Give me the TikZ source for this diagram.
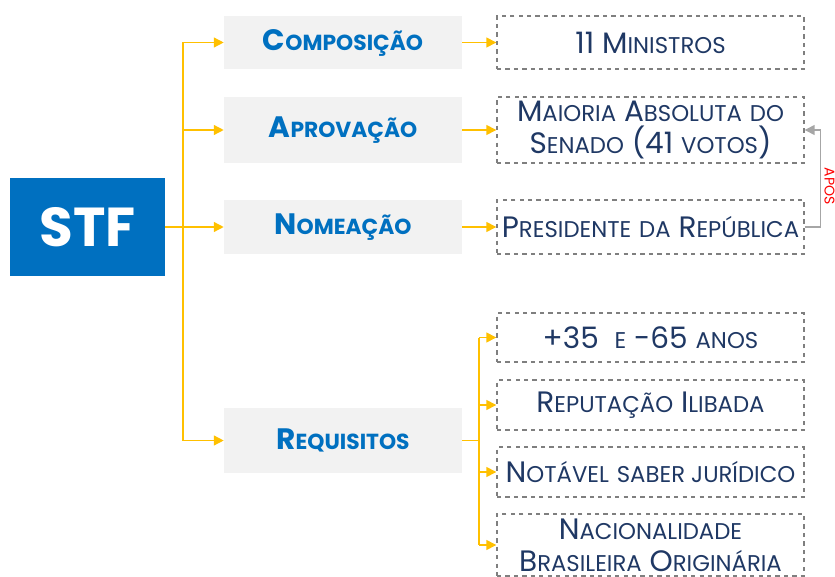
\documentclass[tikz,border=0pt]{standalone}
\usepackage{fontspec}
\setmainfont{Poppins}
\usetikzlibrary{positioning,arrows.meta}
\definecolor{stfblue}{HTML}{0070C0}
\definecolor{navy}{HTML}{1F3864}
\definecolor{boxgray}{HTML}{F2F2F2}
\definecolor{gold}{HTML}{FFC000}
\definecolor{edgegray}{HTML}{7F7F7F}
\definecolor{backgray}{HTML}{A6A6A6}
\newdimen\px \px=0.025cm
\newcommand\lowsz{}
\newcommand\scap[2]{#1{\lowsz #2}}

\begin{document}
\begin{tikzpicture}
            [x=1\px, y=-1\px,
            every node/.style={inner sep=0pt, align=center},
            head/.style={fill=stfblue, text=white, minimum width=155\px,
            minimum height=97\px, font=\bfseries\fontsize{39}{39}\selectfont},
            topic/.style={fill=boxgray, text=stfblue, minimum width=238\px,
            font=\bfseries\fontsize{21}{24}\selectfont\def\lowsz{\fontsize{15.5}{24}\selectfont}},
            item/.style={draw=edgegray, dashed, line width=1pt, text=navy,
            minimum width=307\px,
            font=\fontsize{21}{23}\selectfont\def\lowsz{\fontsize{16.2}{23}\selectfont}},
            wire/.style={draw=gold, line width=1pt},
            feed/.style={wire, -{Triangle[length=7pt,width=7pt]}},
            back/.style={draw=backgray, line width=1pt, -{Triangle[length=7pt,width=7pt]}},
            after/.style={text=red, font=\fontsize{10}{10}\selectfont}]
            \useasboundingbox (0,0) rectangle (835,577);
            \clip (0,0) rectangle (835,577);
            \node[head] (stf) at (87.5,227) {STF};
            \node[topic, minimum height=53\px] (comp) at (343,42.5) {\scap{C}{OMPOSIÇÃO}};
            \node[topic, minimum height=66\px] (aprov) at (343,130) {\scap{A}{PROVAÇÃO}};
            \node[topic, minimum height=54\px] (nome) at (343,227) {\scap{N}{OMEAÇÃO}};
            \node[topic, minimum height=65\px] (req) at (343,440.5) {\scap{R}{EQUISITOS}};
            \node[item, minimum height=53\px] (min) at (650.5,42.5) {11 \scap{M}{INISTROS}};
            \node[item, minimum height=66\px] (maior) at (650.5,130)
                {\scap{M}{AIORIA} \scap{A}{BSOLUTA} {\lowsz DO}\\\scap{S}{ENADO} (41 {\lowsz VOTOS})};
            \node[item, minimum height=54\px] (pres) at (650.5,227)
                {\scap{P}{RESIDENTE} {\lowsz DA} \scap{R}{EPÚBLICA}};
            \node[item, minimum height=49\px] (idade) at (650.5,337.5) {+35\ \ {\lowsz E} -65 {\lowsz ANOS}};
            \node[item, minimum height=50\px] (rep) at (650.5,405) {\scap{R}{EPUTAÇÃO} \scap{I}{LIBADA}};
            \node[item, minimum height=50\px] (saber) at (650.5,472) {\scap{N}{OTÁVEL} {\lowsz SABER JURÍDICO}};
            \node[item, minimum height=62\px] (nac) at (650.5,545)
                {\scap{N}{ACIONALIDADE}\\\scap{B}{RASILEIRA} \scap{O}{RIGINÁRIA}};
            \node[after, rotate=-90] (apos) at (831,186) {APÓS};
            \coordinate (bus) at (183,227);
            \coordinate (rbus) at (479,440.5);
            \draw[wire] (stf.east) -- (bus);
            \draw[wire] (bus |- comp.west) -- (bus |- req.west);
            \foreach \t in {comp,aprov,nome,req}
                \draw[feed] (bus |- \t.west) -- (\t.west);
            \foreach \a/\b in {comp/min,aprov/maior,nome/pres}
                \draw[feed] (\a) -- (\b);
            \draw[wire] (req.east) -- (rbus);
            \draw[wire] (rbus |- idade.west) -- (rbus |- nac.west);
            \foreach \t in {idade,rep,saber,nac}
                \draw[feed] (rbus |- \t.west) -- (\t.west);
            \draw[back] (pres.east) -- ++(16,0) |- (maior.east);
\end{tikzpicture}
\end{document}
